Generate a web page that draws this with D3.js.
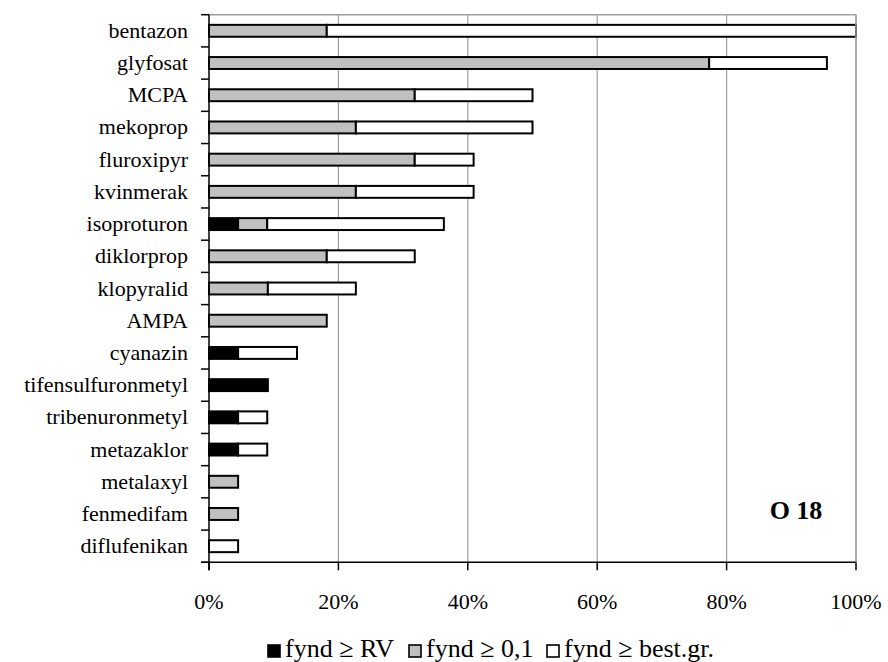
<!DOCTYPE html>
<html>
<head>
<meta charset="utf-8">
<script src="https://cdn.jsdelivr.net/npm/d3@7"></script>
<style>
  html, body { margin: 0; padding: 0; background: #fff; }
  svg { display: block; }
  text { font-family: "Liberation Serif", "Times New Roman", serif; fill: #000; }
</style>
</head>
<body>
<svg id="chart" width="888" height="662"></svg>
<script>
// ---- data ----
const categories = ["bentazon", "glyfosat", "MCPA", "mekoprop", "fluroxipyr", "kvinmerak",
  "isoproturon", "diklorprop", "klopyralid", "AMPA", "cyanazin", "tifensulfuronmetyl",
  "tribenuronmetyl", "metazaklor", "metalaxyl", "fenmedifam", "diflufenikan"];
// stacked segment lengths (%)
const fyndRV    = [0, 0, 0, 0, 0, 0, 4.5, 0, 0, 0, 4.5, 9.1, 4.5, 4.5, 0, 0, 0];
const fynd01    = [18.2, 77.3, 31.8, 22.7, 31.8, 22.7, 4.5, 18.2, 9.1, 18.2, 0, 0, 0, 0, 4.5, 4.5, 0];
const fyndBest  = [81.8, 18.2, 18.2, 27.3, 9.1, 18.2, 27.3, 13.6, 13.6, 0, 9.1, 0, 4.5, 4.5, 0, 0, 4.5];
const seriesNames = ["fynd \u2265 RV", "fynd \u2265 0,1", "fynd \u2265 best.gr."];
const seriesColors = ["#000000", "#c0c0c0", "#ffffff"];
const xTicks = [0, 20, 40, 60, 80, 100];
const panelLabel = "O 18";

// ---- layout ----
const svg = d3.select("#chart");
const L = 209, R = 856, T = 14.7, B = 562.3;

const x = d3.scaleLinear().domain([0, 100]).range([L, R]);
const y = d3.scaleBand().domain(categories).range([T, B]).paddingInner(0.63).paddingOuter(0.315);
const yb = d3.scaleBand().domain(categories).range([T, B]).padding(0);

// gridlines
svg.append("g").selectAll("line").data(xTicks.filter(d => d > 0)).join("line")
  .attr("x1", d => x(d)).attr("x2", d => x(d)).attr("y1", T).attr("y2", B)
  .attr("stroke", "#a0a0a0").attr("stroke-width", 1.2);
// top border
svg.append("line").attr("x1", L).attr("x2", R).attr("y1", T).attr("y2", T)
  .attr("stroke", "#a0a0a0").attr("stroke-width", 1.5);

// stacked data
const rows = categories.map((c, i) => ({ cat: c, s0: fyndRV[i], s1: fynd01[i], s2: fyndBest[i] }));
const stack = d3.stack().keys(["s0", "s1", "s2"])(rows);

svg.append("g").selectAll("g").data(stack).join("g")
  .attr("fill", (d, i) => seriesColors[i])
  .selectAll("rect").data(d => d.filter(p => p[1] - p[0] > 0)).join("rect")
  .attr("x", d => x(d[0]))
  .attr("width", d => x(d[1]) - x(d[0]))
  .attr("y", d => y(d.data.cat))
  .attr("height", y.bandwidth())
  .attr("stroke", "#000").attr("stroke-width", 2);

// y axis
const yAxisG = svg.append("g");
yAxisG.append("line").attr("x1", L).attr("x2", L).attr("y1", T).attr("y2", B + 8)
  .attr("stroke", "#000").attr("stroke-width", 1.5);
const yTickPos = categories.map(c => yb(c)).concat([B]);
yAxisG.selectAll("line.tk").data(yTickPos).join("line").attr("class", "tk")
  .attr("x1", L - 8).attr("x2", L).attr("y1", d => d).attr("y2", d => d)
  .attr("stroke", "#000").attr("stroke-width", 1.5);
yAxisG.selectAll("text").data(categories).join("text")
  .attr("x", 188).attr("y", d => yb(d) + yb.bandwidth() / 2 + 7)
  .attr("text-anchor", "end").style("font-size", "22px").text(d => d);

// x axis
const xAxisG = svg.append("g");
xAxisG.append("line").attr("x1", L - 8).attr("x2", R).attr("y1", B).attr("y2", B)
  .attr("stroke", "#000").attr("stroke-width", 1.5);
xAxisG.selectAll("line.tk").data(xTicks).join("line").attr("class", "tk")
  .attr("x1", d => x(d)).attr("x2", d => x(d)).attr("y1", B).attr("y2", B + 8)
  .attr("stroke", "#000").attr("stroke-width", 1.5);
xAxisG.selectAll("text").data(xTicks).join("text")
  .attr("x", d => x(d)).attr("y", 609).attr("text-anchor", "middle")
  .style("font-size", "22px").text(d => d + "%");
// right border (100%)
svg.append("line").attr("x1", R).attr("x2", R).attr("y1", T).attr("y2", B)
  .attr("stroke", "#a0a0a0").attr("stroke-width", 1.5);

// panel label
svg.append("text").attr("x", 796).attr("y", 519).attr("text-anchor", "middle")
  .style("font-size", "26px").style("font-weight", "bold").text(panelLabel);

// legend
const legendX = [267, 408, 546];
const lg = svg.append("g").selectAll("g").data(seriesNames).join("g")
  .attr("transform", (d, i) => `translate(${legendX[i]},0)`);
lg.append("rect").attr("x", 1).attr("y", 645).attr("width", 12).attr("height", 12)
  .attr("fill", (d, i) => seriesColors[i]).attr("stroke", "#000").attr("stroke-width", 1.6);
lg.append("text").attr("x", 18).attr("y", 657).style("font-size", "26px").text(d => d);
</script>
</body>
</html>
